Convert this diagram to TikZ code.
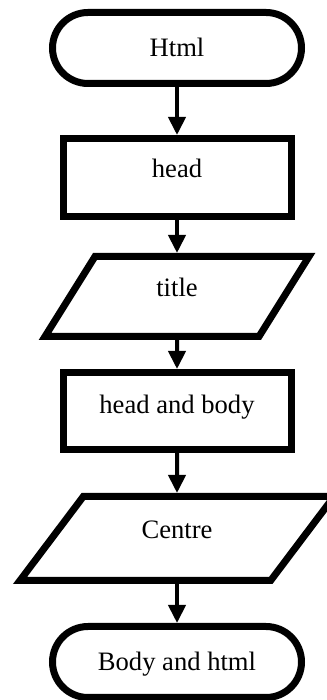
\documentclass[tikz,border=0pt]{standalone}
\usepackage{fontspec}
\setmainfont{Liberation Serif}
\usetikzlibrary{shapes.geometric,shapes.misc,arrows.meta}

\begin{document}
\begin{tikzpicture}[
  x=1pt, y=1pt,
  term/.style={rounded rectangle, draw, line width=7pt, minimum width=249pt, minimum height=71pt, inner sep=0, text height=18pt, text depth=0pt},
  proc/.style={rectangle, draw, line width=7pt, minimum width=228pt, minimum height=78pt, inner sep=0, text height=18pt, text depth=18pt},
  io/.style={trapezium, trapezium stretches body, draw, line width=7pt, inner sep=0},
  flow/.style={-{Triangle[length=18pt, width=17pt]}, line width=4pt},
  font=\fontsize{26.6}{30}\selectfont
]
\useasboundingbox (0,0) rectangle (326,700);
% the six steps, top to bottom
\node[term] (html) at (177, 652) {Html};
\node[proc] (head) at (177, 522.5) {head};
\node[io, trapezium left angle=58, trapezium right angle=122, minimum width=264pt, text height=40pt, text depth=40pt] (title) at (177, 403.5) {title};
\node[proc, minimum height=77pt, text depth=12pt] (headbody) at (177, 289) {head and body};
\node[io, trapezium left angle=53, trapezium right angle=127, minimum width=314pt, text height=42pt, text depth=42pt] (centre) at (177, 161.5) {Centre};
\node[term] (bodyhtml) at (177, 38) {Body and html};
% arrows between them
\draw[flow] (html) -- (head);
\draw[flow] (head) -- (title);
\draw[flow] (title) -- (headbody);
\draw[flow] (headbody) -- (centre);
\draw[flow] (centre) -- (bodyhtml);
\end{tikzpicture}
\end{document}
